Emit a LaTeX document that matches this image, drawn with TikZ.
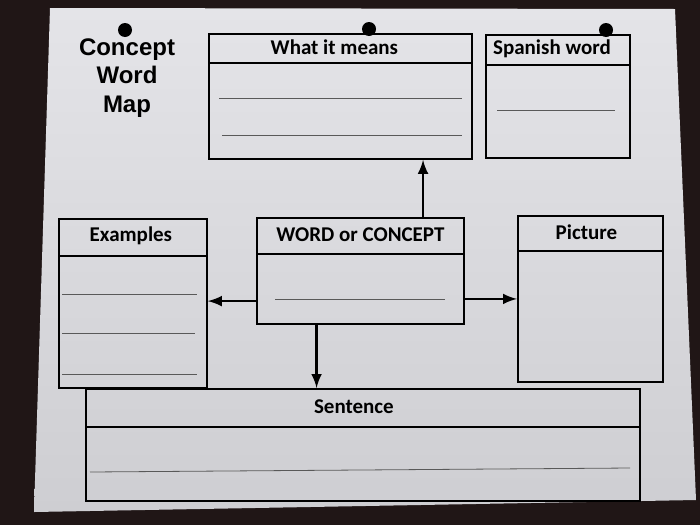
\documentclass[tikz,border=0pt]{standalone}
\usepackage{fontspec}
\setmainfont{Carlito}
\newfontfamily\titlefont{Liberation Sans}
\usetikzlibrary{calc}
\definecolor{desk}{RGB}{32,22,22}
\definecolor{papertop}{RGB}{228,228,232}
\definecolor{paperbottom}{RGB}{206,206,210}
\def\paper{(50,8) -- (675,9) -- (696,500) -- (34,512) -- cycle}
\tikzset{
  box/.style={draw,line width=0.9pt,anchor=north west,inner sep=0pt},
  head/.style={font=\bfseries\fontsize{10.5}{12}\selectfont},
  rule/.style={draw=black!65,line width=0.4pt},
  arrow/.style={-latex,line width=1.4pt}
}

\begin{document}
\begin{tikzpicture}[x=0.5pt,y=-0.5pt]
  \fill[desk] (0,0) rectangle (700,525);
  \shade[top color=papertop,bottom color=paperbottom] \paper;
  \foreach \x/\y in {125/30,369/29,606/30}
    \fill (\x,\y) circle (7);
  \node[font=\titlefont\bfseries\fontsize{12}{14.3}\selectfont,align=center] (title) at (127,78) {Concept\\Word\\Map};

  \node[box,minimum width=131.5pt,minimum height=62.5pt] (means) at (208,33) {};
  \node[box,minimum width=72pt,minimum height=61.5pt] (spanish) at (485,34) {};
  \node[box,minimum width=74pt,minimum height=84.5pt] (examples) at (58,218) {};
  \node[box,minimum width=103.5pt,minimum height=53pt] (word) at (256,217) {};
  \node[box,minimum width=72.5pt,minimum height=83pt] (picture) at (517,215) {};
  \node[box,minimum width=277pt,minimum height=56pt] (sentence) at (85,388) {};

  \foreach \n/\h/\s/\t in {means/30/-6/What it means,spanish/31/-6/Spanish word,examples/38/-2/Examples,word/37/0/WORD or CONCEPT,picture/36/-4/Picture,sentence/39/-9/Sentence}{
    \draw[line width=0.9pt] ($(\n.north west)+(0,\h)$) -- ($(\n.north east)+(0,\h)$);
    \node[head] at ($(\n.north)+(\s,\h/2-1)$) {\t};
  }

  \draw[rule] (219,98) -- (462,98);
  \draw[rule] (222,135) -- (462,135);
  \draw[rule] (497,110) -- (615,110);
  \draw[rule] (62,294) -- (197,294);
  \draw[rule] (62,333) -- (195,333);
  \draw[rule] (62,374) -- (197,374);
  \draw[rule] (275,299) -- (445,299);
  \draw[rule] (90,472) -- (630,468);

  \draw[arrow] ($(word.north west)!.8!(word.north east)$) coordinate (up) -- (up |- means.south);
  \draw[arrow] ($(word.north west)!.78!(word.south west)$) coordinate (left) -- (left -| examples.east);
  \draw[arrow] ($(word.north east)!.76!(word.south east)$) coordinate (right) -- (right -| picture.west);
  \draw[arrow] ($(word.south west)!.29!(word.south east)$) coordinate (down) -- (down |- sentence.north);
\end{tikzpicture}
\end{document}
